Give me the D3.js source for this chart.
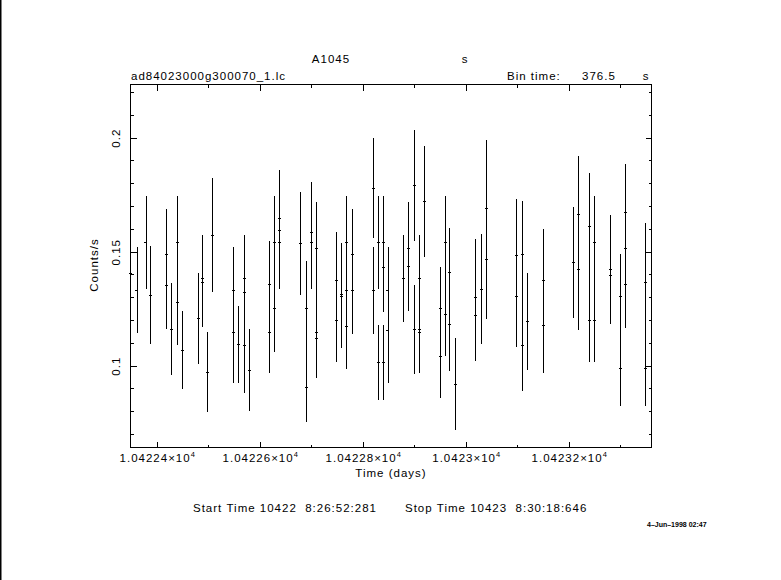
<!DOCTYPE html>
<html>
<head>
<meta charset="utf-8">
<script src="https://cdn.jsdelivr.net/npm/d3@7"></script>
<style>
  html, body { margin: 0; padding: 0; background: #fff; }
  svg { display: block; }
  text { font-family: "Liberation Sans", Arial, sans-serif; fill: #000; letter-spacing: 1px; }
</style>
</head>
<body>
<svg id="chart" width="781" height="580"></svg>
<script>
// ---- data (time in days, count rate in counts/s, 1-sigma error) ----
const times = [
  10422.3490, 10422.3612, 10422.3786, 10422.3876, 10422.4186, 10422.4186, 10422.4283, 10422.4400, 10422.4400, 10422.4497,
  10422.4808, 10422.4885, 10422.4885, 10422.4982, 10422.5079, 10422.5487, 10422.5487, 10422.5584, 10422.5701, 10422.5701,
  10422.5701, 10422.5798, 10422.6186, 10422.6186, 10422.6283, 10422.6283, 10422.6380, 10422.6380, 10422.6380, 10422.6788,
  10422.6904, 10422.6904, 10422.7001, 10422.7001, 10422.7098, 10422.7098, 10422.7098, 10422.7487, 10422.7487, 10422.7584,
  10422.7584, 10422.7681, 10422.7681, 10422.7681, 10422.7797, 10422.7797, 10422.8205, 10422.8205, 10422.8302, 10422.8302,
  10422.8399, 10422.8399, 10422.8399, 10422.8485, 10422.8485, 10422.8787, 10422.8885, 10422.8885, 10422.9001, 10422.9001,
  10422.9098, 10422.9098, 10422.9098, 10422.9195, 10422.9506, 10422.9506, 10422.9603, 10422.9603, 10422.9681, 10422.9681,
  10422.9797, 10423.0185, 10423.0185, 10423.0302, 10423.0399, 10423.0399, 10423.0981, 10423.0981, 10423.1098, 10423.1098,
  10423.1195, 10423.1505, 10423.1505, 10423.2088, 10423.2185, 10423.2185, 10423.2398, 10423.2398, 10423.2495, 10423.2495,
  10423.2806, 10423.2806, 10423.3000, 10423.3000, 10423.3097, 10423.3097, 10423.3097, 10423.3486, 10423.3486
];
const rates = [
  0.1408, 0.1332, 0.1541, 0.1310, 0.1490, 0.1354, 0.1161, 0.1541, 0.1279, 0.1069,
  0.1208, 0.1383, 0.1367, 0.0971, 0.1573, 0.1330, 0.1146, 0.1094, 0.1383, 0.1323,
  0.1089, 0.0981, 0.1357, 0.1146, 0.1541, 0.1251, 0.1648, 0.1594, 0.1541, 0.1537,
  0.1251, 0.0905, 0.1585, 0.1541, 0.1515, 0.1146, 0.1120, 0.1374, 0.1199, 0.1313,
  0.1307, 0.1541, 0.1330, 0.1173, 0.1488, 0.1330, 0.1778, 0.1330, 0.1541, 0.1015,
  0.1541, 0.1431, 0.1015, 0.1330, 0.1155, 0.1383, 0.1515, 0.1436, 0.1791, 0.1159,
  0.1383, 0.1159, 0.1146, 0.1721, 0.1251, 0.1041, 0.1541, 0.1225, 0.1409, 0.1181,
  0.0918, 0.1300, 0.1221, 0.1335, 0.1690, 0.1466, 0.1484, 0.1304, 0.1490, 0.1089,
  0.1194, 0.1374, 0.1177, 0.1453, 0.1664, 0.1423, 0.1611, 0.1199, 0.1541, 0.1199,
  0.1423, 0.1396, 0.1304, 0.0988, 0.1673, 0.1515, 0.1357, 0.1368, 0.0988
];
const errors = [
  0.0190, 0.0190, 0.0204, 0.0216, 0.0199, 0.0194, 0.0203, 0.0203, 0.0189, 0.0170,
  0.0199, 0.0190, 0.0196, 0.0175, 0.0249, 0.0190, 0.0224, 0.0170, 0.0190, 0.0195,
  0.0208, 0.0180, 0.0190, 0.0177, 0.0203, 0.0190, 0.0211, 0.0205, 0.0205, 0.0227,
  0.0208, 0.0152, 0.0221, 0.0205, 0.0203, 0.0190, 0.0173, 0.0211, 0.0181, 0.0225,
  0.0230, 0.0203, 0.0195, 0.0186, 0.0199, 0.0190, 0.0219, 0.0190, 0.0203, 0.0165,
  0.0203, 0.0194, 0.0165, 0.0190, 0.0230, 0.0192, 0.0203, 0.0194, 0.0243, 0.0196,
  0.0190, 0.0190, 0.0177, 0.0243, 0.0180, 0.0181, 0.0203, 0.0181, 0.0193, 0.0203,
  0.0202, 0.0254, 0.0199, 0.0241, 0.0300, 0.0260, 0.0247, 0.0221, 0.0232, 0.0199,
  0.0212, 0.0225, 0.0208, 0.0243, 0.0256, 0.0265, 0.0234, 0.0181, 0.0203, 0.0181,
  0.0238, 0.0212, 0.0186, 0.0164, 0.0212, 0.0200, 0.0190, 0.0256, 0.0164
];
const binTimeSec = 376.5;

// ---- axis ticks / labels ----
const xMajorTicks = [10422.4, 10422.6, 10422.8, 10423.0, 10423.2];
const xMinorTicks = [10422.5, 10422.7, 10422.9, 10423.1, 10423.3];
const xTickLabels = ["1.04224", "1.04226", "1.04228", "1.0423", "1.04232"];
const yMajorTicks = [0.1, 0.15, 0.2];
const yMinorTicks = [0.07, 0.08, 0.09, 0.11, 0.12, 0.13, 0.14, 0.16, 0.17, 0.18, 0.19, 0.21, 0.22];
const yTickLabels = ["0.1", "0.15", "0.2"];

const titleText = "A1045";
const titleUnit = "s";
const fileName = "ad84023000g300070_1.lc";
const binLabel = "Bin time:";
const binValue = "376.5";
const xTitle = "Time (days)";
const yTitle = "Counts/s";
const startText = "Start Time 10422  8:26:52:281";
const stopText = "Stop Time 10423  8:30:18:646";
const stamp = "4\u2013Jun\u20131998 02:47";

// ---- layout ----
const L = 130.5, R = 651.5, T = 84.5, B = 447.5;
const FS = "11.5px";
const svg = d3.select("#chart");

const x = d3.scaleLinear().domain([10422.3491, 10423.3608]).range([L, R]);
const y = d3.scaleLinear().domain([0.06412, 0.22333]).range([B, T]);

const nb = s => s.replace(/ /g, "\u00a0");

// left border line of the page
svg.append("rect").attr("x", 0).attr("y", 0).attr("width", 1.5).attr("height", 580).attr("fill", "#000");

// frame
svg.append("rect").attr("x", L).attr("y", T).attr("width", R - L).attr("height", B - T)
  .attr("fill", "none").attr("stroke", "#000").attr("stroke-width", 1).attr("shape-rendering", "crispEdges");

function addAxis(gen, tx, ty) {
  const g = svg.append("g").attr("transform", `translate(${tx},${ty})`).call(gen);
  g.select(".domain").remove();
  g.selectAll("line").attr("stroke", "#000").attr("shape-rendering", "crispEdges");
  g.selectAll("text").remove();
  return g;
}
addAxis(d3.axisBottom(x).tickValues(xMajorTicks).tickSize(-6), 0, B);
addAxis(d3.axisBottom(x).tickValues(xMinorTicks).tickSize(-3), 0, B);
addAxis(d3.axisTop(x).tickValues(xMajorTicks).tickSize(-6), 0, T);
addAxis(d3.axisTop(x).tickValues(xMinorTicks).tickSize(-3), 0, T);
addAxis(d3.axisLeft(y).tickValues(yMajorTicks).tickSize(-6), L, 0);
addAxis(d3.axisLeft(y).tickValues(yMinorTicks).tickSize(-3), L, 0);
addAxis(d3.axisRight(y).tickValues(yMajorTicks).tickSize(-6), R, 0);
addAxis(d3.axisRight(y).tickValues(yMinorTicks).tickSize(-3), R, 0);

function label(px, py, str, anchor, size) {
  return svg.append("text").attr("x", px).attr("y", py).attr("text-anchor", anchor || "start")
    .style("font-size", size || FS).text(nb(str));
}

// x tick labels
xMajorTicks.forEach((v, i) => {
  const t = svg.append("text").attr("x", x(v) + 1).attr("y", 462).attr("text-anchor", "middle")
    .style("font-size", FS);
  t.append("tspan").text(xTickLabels[i] + "\u00d710");
  t.append("tspan").attr("dy", -5).style("font-size", "7.5px").text("4");
});

// y tick labels (rotated)
yMajorTicks.forEach((v, i) => {
  svg.append("text").attr("transform", `translate(120,${y(v) + 0.5}) rotate(-90)`)
    .attr("text-anchor", "middle").style("font-size", FS).text(yTickLabels[i]);
});

// axis titles
label(391, 477, xTitle, "middle");
svg.append("text").attr("transform", "translate(98,265) rotate(-90)").attr("text-anchor", "middle")
  .style("font-size", FS).text(yTitle);

// header
label(331, 63, titleText, "middle");
label(465, 63, titleUnit, "middle");
label(131, 80, fileName);
label(507, 80, binLabel);
label(582, 80, binValue);
label(646, 80, titleUnit, "middle");

// footer
label(193, 512, startText);
label(405, 512, stopText);
svg.append("text").attr("x", 647).attr("y", 527).style("font-size", "7px").style("letter-spacing", "0px")
  .style("font-weight", "bold").text(stamp);

// data: error bars and bin-width markers
const halfBin = binTimeSec / 86400 / 2;
const data = times.map((t, i) => ({ t, r: rates[i], e: errors[i] }));
const g = svg.append("g").attr("stroke", "#000").attr("stroke-width", 1).attr("shape-rendering", "crispEdges");
g.selectAll("line.ey").data(data).enter().append("line").attr("class", "ey")
  .attr("x1", d => Math.round(x(d.t)) + 0.5).attr("x2", d => Math.round(x(d.t)) + 0.5)
  .attr("y1", d => y(d.r - d.e)).attr("y2", d => y(d.r + d.e));
g.selectAll("line.ex").data(data).enter().append("line").attr("class", "ex")
  .attr("x1", d => x(d.t - halfBin) - 0.4).attr("x2", d => x(d.t + halfBin) + 0.4)
  .attr("y1", d => Math.round(y(d.r)) + 0.5).attr("y2", d => Math.round(y(d.r)) + 0.5);
</script>
</body>
</html>
